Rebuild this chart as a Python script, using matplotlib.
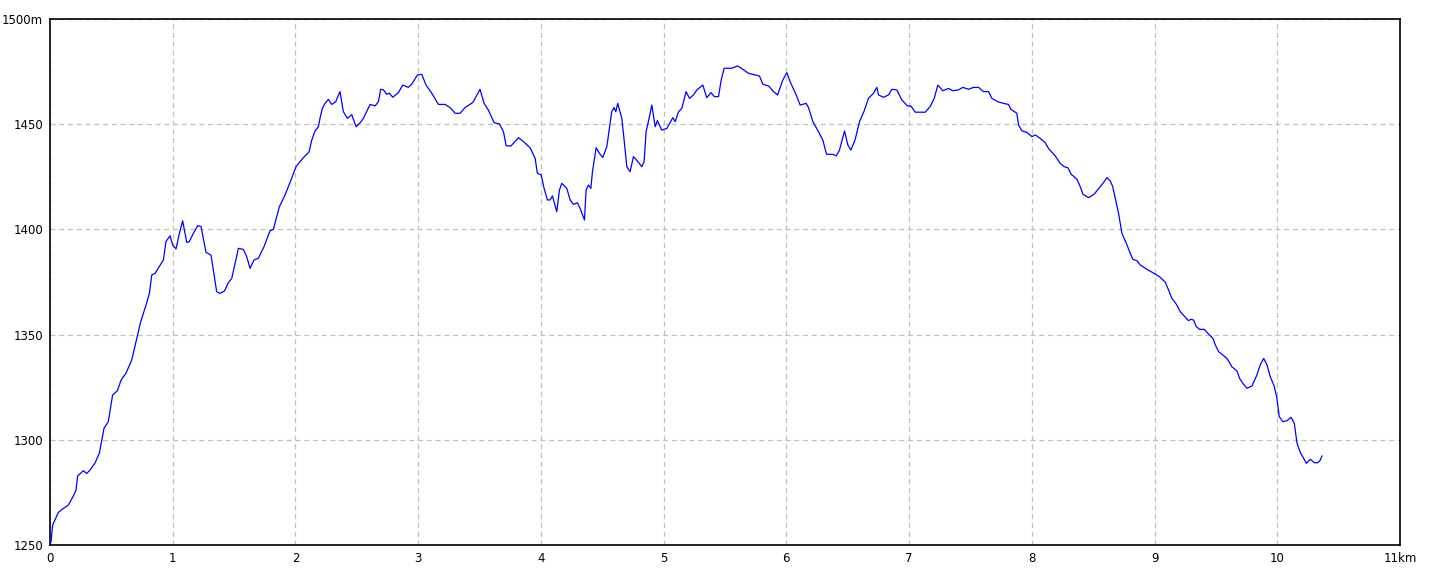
import matplotlib
matplotlib.use("Agg")
import matplotlib.pyplot as plt

# distance (km) and elevation (m)
dist_km = [
    0.0, 0.008, 0.022, 0.068, 0.109, 0.15, 0.19, 0.212, 0.225, 0.272, 0.299, 0.326,
    0.367, 0.402, 0.44, 0.475, 0.51, 0.549, 0.579, 0.619, 0.666, 0.701, 0.739,
    0.782, 0.81, 0.829, 0.856, 0.924, 0.945, 0.978, 1.0, 1.027, 1.054, 1.081,
    1.114, 1.135, 1.168, 1.204, 1.231, 1.271, 1.312, 1.331, 1.358, 1.385, 1.421,
    1.453, 1.481, 1.508, 1.535, 1.575, 1.603, 1.63, 1.663, 1.698, 1.744, 1.793,
    1.82, 1.869, 1.915, 1.961, 2.005, 2.037, 2.073, 2.111, 2.133, 2.16, 2.187,
    2.2, 2.219, 2.241, 2.268, 2.296, 2.328, 2.363, 2.39, 2.423, 2.459, 2.494,
    2.527, 2.554, 2.608, 2.649, 2.676, 2.695, 2.717, 2.744, 2.765, 2.793, 2.839,
    2.874, 2.92, 2.948, 2.994, 3.029, 3.064, 3.111, 3.165, 3.219, 3.26, 3.301,
    3.341, 3.382, 3.445, 3.504, 3.537, 3.572, 3.619, 3.662, 3.695, 3.717, 3.755,
    3.817, 3.858, 3.912, 3.953, 3.971, 4.002, 4.026, 4.053, 4.075, 4.094, 4.129,
    4.151, 4.17, 4.211, 4.238, 4.265, 4.297, 4.319, 4.355, 4.368, 4.387, 4.407,
    4.42, 4.45, 4.477, 4.504, 4.537, 4.558, 4.577, 4.596, 4.61, 4.626, 4.659,
    4.678, 4.7, 4.727, 4.754, 4.795, 4.822, 4.841, 4.857, 4.884, 4.904, 4.931,
    4.949, 4.985, 5.026, 5.075, 5.094, 5.121, 5.148, 5.183, 5.21, 5.243, 5.271,
    5.319, 5.352, 5.385, 5.414, 5.447, 5.469, 5.493, 5.556, 5.602, 5.645, 5.691,
    5.781, 5.808, 5.854, 5.895, 5.928, 5.971, 6.004, 6.031, 6.08, 6.112, 6.161,
    6.18, 6.216, 6.262, 6.297, 6.327, 6.379, 6.406, 6.433, 6.474, 6.501, 6.526,
    6.561, 6.596, 6.634, 6.669, 6.71, 6.737, 6.751, 6.791, 6.832, 6.86, 6.9,
    6.941, 6.987, 7.014, 7.05, 7.131, 7.172, 7.205, 7.234, 7.275, 7.321, 7.357,
    7.402, 7.438, 7.484, 7.525, 7.566, 7.606, 7.647, 7.675, 7.721, 7.769, 7.81,
    7.829, 7.878, 7.892, 7.92, 7.96, 8.001, 8.028, 8.068, 8.109, 8.136, 8.191,
    8.231, 8.264, 8.294, 8.321, 8.368, 8.389, 8.417, 8.463, 8.509, 8.557, 8.59,
    8.612, 8.639, 8.658, 8.68, 8.707, 8.734, 8.77, 8.808, 8.824, 8.857, 8.883,
    8.938, 8.987, 9.041, 9.087, 9.114, 9.141, 9.177, 9.209, 9.242, 9.277, 9.296,
    9.318, 9.34, 9.367, 9.405, 9.44, 9.476, 9.495, 9.522, 9.563, 9.595, 9.63,
    9.671, 9.693, 9.72, 9.753, 9.794, 9.834, 9.861, 9.889, 9.916, 9.943, 9.976,
    9.997, 10.016, 10.046, 10.079, 10.112, 10.139, 10.161, 10.188, 10.215,
    10.237, 10.269, 10.302, 10.329, 10.351, 10.364,
]
elev_m = [
    1250.5, 1251.6, 1259.5, 1265.5, 1267.4, 1269.0, 1273.3, 1276.0, 1282.8, 1285.3, 1284.0, 1285.6,
    1289.0, 1293.6, 1305.5, 1308.6, 1321.3, 1323.3, 1328.4, 1331.6, 1338.0, 1346.6, 1356.1,
    1364.0, 1369.6, 1378.3, 1379.1, 1385.5, 1394.2, 1397.0, 1392.6, 1390.7, 1398.1, 1404.1,
    1393.8, 1394.2, 1398.1, 1401.8, 1401.3, 1389.1, 1387.8, 1380.7, 1370.4, 1369.6, 1370.7,
    1374.7, 1376.7, 1383.9, 1391.0, 1390.5, 1387.0, 1381.5, 1385.5, 1386.3, 1391.8, 1399.4,
    1400.0, 1410.8, 1416.3, 1423.1, 1429.8, 1432.2, 1434.6, 1436.9, 1442.5, 1446.8, 1448.8,
    1452.8, 1457.5, 1459.9, 1461.8, 1459.4, 1460.7, 1465.5, 1456.0, 1452.8, 1454.5, 1448.8,
    1450.7, 1452.8, 1459.4, 1458.7, 1460.7, 1466.6, 1466.3, 1464.2, 1464.7, 1462.8, 1465.0,
    1468.6, 1467.5, 1469.1, 1473.4, 1473.7, 1468.6, 1464.7, 1459.4, 1459.4, 1457.9, 1455.2,
    1455.2, 1457.9, 1460.3, 1466.6, 1459.9, 1456.7, 1450.7, 1450.1, 1446.4, 1439.8, 1439.6,
    1443.6, 1441.7, 1438.8, 1433.8, 1426.7, 1425.9, 1419.5, 1414.0, 1414.0, 1415.9, 1408.4,
    1418.7, 1421.9, 1419.5, 1414.0, 1411.9, 1412.7, 1410.0, 1404.5, 1418.7, 1421.1, 1419.5,
    1427.4, 1438.8, 1436.1, 1434.2, 1439.3, 1448.0, 1455.9, 1457.9, 1455.9, 1459.9, 1452.8,
    1442.5, 1429.8, 1427.4, 1434.6, 1431.9, 1429.8, 1432.2, 1446.4, 1453.5, 1459.1, 1448.8,
    1451.7, 1447.2, 1448.0, 1453.1, 1451.2, 1455.9, 1457.5, 1465.5, 1462.3, 1463.9, 1466.3,
    1468.6, 1462.6, 1465.0, 1463.1, 1463.1, 1471.0, 1476.6, 1476.6, 1477.7, 1476.1, 1474.2,
    1472.9, 1469.0, 1468.2, 1465.5, 1463.9, 1471.0, 1474.5, 1470.2, 1463.9, 1459.1, 1459.9,
    1458.0, 1451.2, 1446.4, 1442.5, 1435.7, 1435.7, 1434.9, 1437.7, 1446.8, 1440.1, 1437.7,
    1442.8, 1451.2, 1456.3, 1462.3, 1464.7, 1467.5, 1463.9, 1462.8, 1463.9, 1466.6, 1466.3,
    1461.5, 1458.7, 1458.7, 1455.7, 1455.7, 1458.4, 1462.3, 1468.6, 1465.9, 1467.0, 1465.9,
    1466.3, 1467.5, 1466.6, 1467.5, 1467.5, 1465.5, 1465.5, 1462.3, 1460.7, 1459.9, 1459.4,
    1457.1, 1455.2, 1449.6, 1446.8, 1446.1, 1444.1, 1444.9, 1443.3, 1441.2, 1438.5, 1434.9,
    1431.4, 1429.8, 1429.3, 1426.2, 1423.8, 1421.1, 1416.7, 1415.1, 1416.8, 1420.3, 1422.7,
    1424.6, 1423.0, 1420.6, 1414.8, 1407.6, 1398.1, 1393.4, 1387.8, 1385.8, 1385.1, 1383.1,
    1381.0, 1379.4, 1377.5, 1374.9, 1371.2, 1367.3, 1364.5, 1360.9, 1358.8, 1356.6, 1357.3,
    1356.9, 1353.8, 1352.5, 1352.5, 1350.3, 1348.2, 1345.1, 1341.9, 1340.0, 1338.3, 1334.7,
    1332.8, 1329.2, 1326.8, 1324.5, 1325.6, 1330.8, 1335.6, 1338.7, 1335.6, 1330.0, 1325.3,
    1319.8, 1311.0, 1308.6, 1309.1, 1310.7, 1307.8, 1298.3, 1293.9, 1291.2,
    1288.8, 1290.7, 1289.1, 1289.1, 1290.4, 1292.3,
]

x_ticks = list(range(0, 12))
x_labels = [str(k) for k in range(0, 11)] + ["11km"]
y_ticks = [1250, 1300, 1350, 1400, 1450, 1500]
y_labels = ["1250", "1300", "1350", "1400", "1450", "1500m"]

fig = plt.figure(figsize=(14.4, 5.76), dpi=100)
ax = fig.add_axes([50 / 1440, 31 / 576, 1350 / 1440, 526 / 576])

ax.plot(dist_km, elev_m, color="#0000ff", linewidth=0.9, zorder=3)

ax.set_xlim(0, 11)
ax.set_ylim(1250, 1500)
ax.set_xticks(x_ticks)
ax.set_xticklabels(x_labels)
ax.set_yticks(y_ticks)
ax.set_yticklabels(y_labels)
ax.tick_params(length=0, labelsize=8.5, pad=5, colors="black")

ax.grid(True, color="#c0c0c0", linestyle=(0, (4, 3)), linewidth=0.9)
for s in ax.spines.values():
    s.set_color("black")
    s.set_linewidth(1.2)

fig.savefig("out.png", dpi=100)
